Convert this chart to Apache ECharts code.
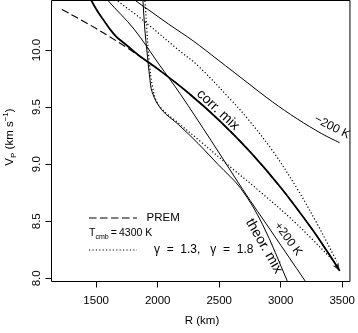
<!DOCTYPE html>
<html>
<head>
<meta charset="utf-8">
<script src="https://cdn.jsdelivr.net/npm/echarts@6/dist/echarts.min.js"></script>
<style>
  html, body { margin: 0; padding: 0; background: #fff; }
  #chart { width: 358px; height: 333px; }
</style>
</head>
<body>
<div id="chart"></div>
<script>
// ticks
var xTicks = [1500, 2000, 2500, 3000, 3500];
var yTicks = [8.0, 8.5, 9.0, 9.5, 10.0];

// PREM outer core (dashed)
var premR = [1221, 1300, 1400, 1500, 1600, 1750, 2000, 2250, 2500, 2750, 3000, 3250, 3400, 3480];
var premV = [10.356, 10.310, 10.250, 10.188, 10.123, 10.021, 9.835, 9.624, 9.384, 9.110, 8.796, 8.438, 8.199, 8.065];

// corr. mix (thick, bends onto PREM near 1750 km)
var corrR = [1431, 1460, 1511, 1567, 1615, 1663, 1720, 1784, 1850, 2000, 2250, 2500, 2750, 3000, 3250, 3400, 3480];
var corrV = [10.506, 10.436, 10.34, 10.253, 10.179, 10.118, 10.066, 10.010, 9.950, 9.835, 9.624, 9.384, 9.110, 8.796, 8.438, 8.199, 8.065];

// theor. mix
var theorR = [1876, 1880, 1896, 1916, 1933, 1957, 2033, 2170, 2330, 2491, 2676, 2852, 3053, 3069];
var theorV = [10.52, 10.436, 10.175, 9.956, 9.782, 9.625, 9.476, 9.346, 9.180, 8.997, 8.787, 8.473, 7.978, 7.94];

// +200 K
var plusR = [1567, 1594, 1808, 2009, 2183, 2435, 2692, 2933, 3198, 3222];
var plusV = [10.48, 10.436, 10.183, 9.878, 9.616, 9.206, 8.778, 8.397, 7.978, 7.94];

// -200 K
var minusR = [1768, 1816, 1929, 2089, 2290, 2491, 2732, 2933, 3133, 3334, 3479];
var minusV = [10.49, 10.436, 10.35, 10.227, 10.079, 9.913, 9.712, 9.546, 9.398, 9.267, 9.188];

// gamma = 1.3 (dotted)
var g13R = [1648, 1671, 1808, 1929, 2170, 2330, 2595, 2732, 2933, 3133, 3294, 3455];
var g13V = [10.48, 10.436, 10.323, 10.218, 10.0, 9.86, 9.564, 9.398, 9.119, 8.787, 8.482, 8.15];

// gamma = 1.8 (dotted)
var g18R = [1884, 1896, 1912, 1930, 1955, 1993, 2065, 2145, 2330, 2587, 2812, 3133, 3438];
var g18V = [10.52, 10.436, 10.175, 9.913, 9.695, 9.546, 9.45, 9.38, 9.215, 8.979, 8.778, 8.473, 8.141];

function pairs(r, v) {
    return r.map(function (x, i) { return [x, v[i]]; });
}

var FONT = '"Liberation Sans", Arial, Helvetica, sans-serif';

function curve(data, width, type, z) {
    return {
        type: 'line',
        data: data,
        symbol: 'none',
        showSymbol: false,
        smooth: 0.35,
        clip: true,
        z: z || 2,
        lineStyle: {color: '#000', width: width, type: type || 'solid'}
    };
}

function label(text, x, y, deg, size) {
    return {
        type: 'text',
        x: x, y: y,
        rotation: deg * Math.PI / 180,
        z: 10,
        style: {
            text: text, fill: '#000',
            fontSize: size, fontFamily: FONT,
            align: 'center', verticalAlign: 'middle',
            textAlign: 'center', textVerticalAlign: 'middle'
        }
    };
}

var dotted = [1.2, 2.2];

var option = {
    animation: false,
    backgroundColor: '#fff',
    grid: {
        left: 51.5, right: 4.5, top: 0.5, bottom: 51.5,
        show: true, borderColor: '#000', borderWidth: 1, backgroundColor: 'transparent'
    },
    xAxis: {
        type: 'value', min: 1137, max: 3563,
        axisLine: {show: false},
        splitLine: {show: false},
        axisTick: {show: true, inside: false, length: 6, lineStyle: {color: '#000', width: 1}, customValues: xTicks},
        axisLabel: {
            customValues: xTicks, color: '#000', fontSize: 11.5, fontFamily: FONT, margin: 13,
            formatter: function (v) { return String(v); }
        }
    },
    yAxis: {
        type: 'value', min: 7.972, max: 10.434,
        axisLine: {show: false},
        splitLine: {show: false},
        axisTick: {show: true, inside: false, length: 6, lineStyle: {color: '#000', width: 1}, customValues: yTicks},
        axisLabel: {
            customValues: yTicks, color: '#000', fontSize: 11.5, fontFamily: FONT, margin: 9, rotate: 90,
            formatter: function (v) { return v.toFixed(1); }
        }
    },
    series: [
        curve(pairs(premR, premV), 1.1, [7.5, 3.5], 2),
        curve(pairs(corrR, corrV), 1.8, 'solid', 3),
        curve(pairs(theorR, theorV), 1, 'solid'),
        curve(pairs(plusR, plusV), 1, 'solid'),
        curve(pairs(minusR, minusV), 1, 'solid'),
        curve(pairs(g13R, g13V), 1.2, dotted),
        curve(pairs(g18R, g18V), 1.2, dotted),
        {
            type: 'scatter',
            data: [[corrR[corrR.length - 1], corrV[corrV.length - 1]]],
            symbol: 'arrow', symbolSize: [5, 8], symbolRotate: -148,
            itemStyle: {color: '#000'}, z: 4
        }
    ],
    graphic: [
        // axis titles
        label('R (km)', 202, 321, 0, 11.5),
        {
            type: 'text', x: 10, y: 137, rotation: Math.PI / 2, z: 10,
            style: {
                text: '{m|V}{s|P}{m| (km s}{u|\u22121}{m|)}',
                fill: '#000', fontFamily: FONT,
                align: 'center', verticalAlign: 'middle',
                textAlign: 'center', textVerticalAlign: 'middle',
                rich: {
                    m: {fontSize: 11.5, fontFamily: FONT, lineHeight: 16, verticalAlign: 'middle'},
                    s: {fontSize: 8, fontFamily: FONT, lineHeight: 9, verticalAlign: 'bottom'},
                    u: {fontSize: 8, fontFamily: FONT, lineHeight: 9, verticalAlign: 'top'}
                }
            }
        },
        // curve labels
        label('corr. mix', 218, 110, -43, 14),
        label('theor. mix', 264, 246, -60, 14),
        label('+200 K', 288, 239, -54, 12),
        label('\u2212200 K', 332, 127, -27, 12),
        // legend
        {
            type: 'line', z: 10,
            shape: {x1: 89, y1: 218, x2: 137, y2: 218},
            style: {stroke: '#000', lineWidth: 1.1, lineDash: [7.5, 3.5]}
        },
        {
            type: 'text', x: 146.5, y: 218, z: 10,
            style: {text: 'PREM', fill: '#000', fontSize: 11.5, fontFamily: FONT, verticalAlign: 'middle', textVerticalAlign: 'middle'}
        },
        {
            type: 'text', x: 89, y: 233, z: 10,
            style: {
                text: '{m|T}{s|cmb}{m|\u2009=\u20094300 K}',
                fill: '#000', fontFamily: FONT,
                verticalAlign: 'middle', textVerticalAlign: 'middle',
                rich: {
                    m: {fontSize: 10.5, fontFamily: FONT, lineHeight: 15, verticalAlign: 'middle'},
                    s: {fontSize: 7, fontFamily: FONT, lineHeight: 8, verticalAlign: 'bottom'}
                }
            }
        },
        {
            type: 'line', z: 10,
            shape: {x1: 89, y1: 250, x2: 137, y2: 250},
            style: {stroke: '#000', lineWidth: 1.2, lineDash: dotted}
        },
        {
            type: 'text', x: 154, y: 250, z: 10,
            style: {text: '\u03b3  =  1.3,   \u03b3  =  1.8', fill: '#000', fontSize: 12, fontFamily: FONT, verticalAlign: 'middle', textVerticalAlign: 'middle'}
        }
    ]
};

var myChart = echarts.init(document.getElementById('chart'));
myChart.setOption(option);
</script>
</body>
</html>
